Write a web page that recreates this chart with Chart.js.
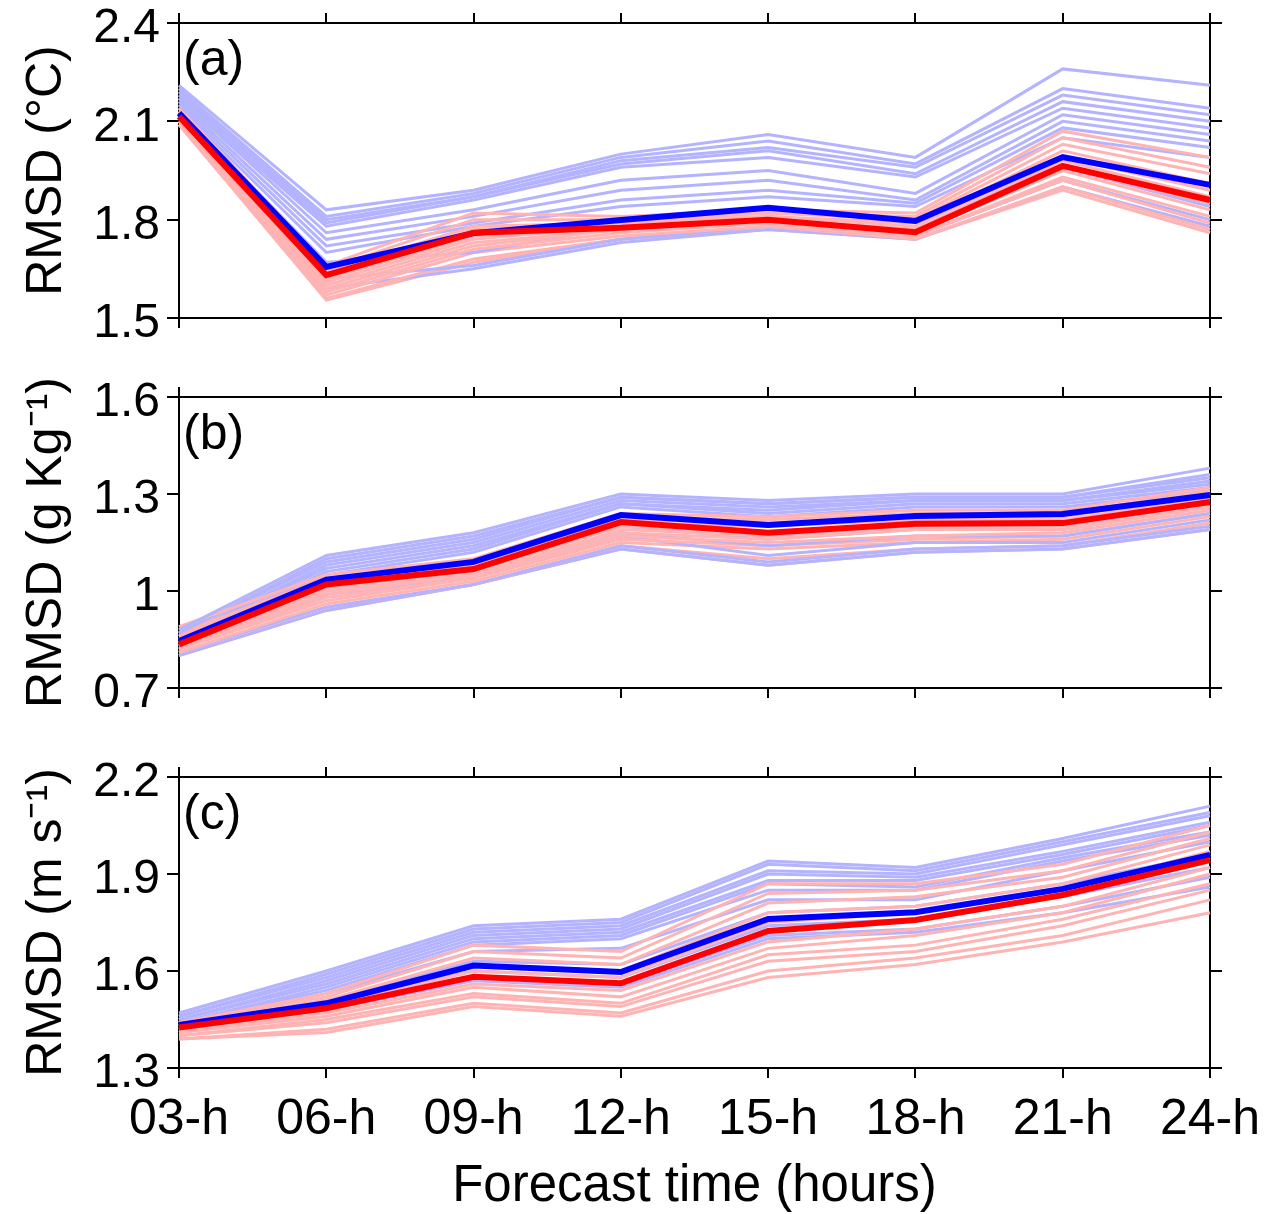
<!DOCTYPE html>
<html>
<head>
<meta charset="utf-8">
<title>RMSD vs forecast time</title>
<script src="https://cdn.jsdelivr.net/npm/chart.js@4.4.1/dist/chart.umd.min.js"></script>
<style>
  html, body { margin: 0; padding: 0; background: #fff; }
  #wrap { position: relative; width: 1274px; height: 1214px; }
  #wrap canvas { position: absolute; left: 0; }
</style>
</head>
<body>
<div id="wrap">
  <canvas id="chartA" width="1274" height="345" style="top:0"></canvas>
  <canvas id="chartB" width="1274" height="380" style="top:345px"></canvas>
  <canvas id="chartC" width="1274" height="489" style="top:725px"></canvas>
</div>
<script>
const hours = ['03-h', '06-h', '09-h', '12-h', '15-h', '18-h', '21-h', '24-h'];

// (a) temperature
const tempTicks = [1.5, 1.8, 2.1, 2.4];
const tempBlueMean = [2.125, 1.656, 1.759, 1.799, 1.836, 1.796, 1.991, 1.906];
const tempRedMean  = [2.115, 1.631, 1.760, 1.775, 1.800, 1.762, 1.964, 1.860];
const tempBlueMembers = [
  [2.21, 1.83, 1.89, 2.00, 2.06, 1.99, 2.26, 2.21],
  [2.20, 1.81, 1.88, 1.99, 2.04, 1.97, 2.20, 2.14],
  [2.19, 1.80, 1.87, 1.98, 2.02, 1.96, 2.18, 2.12],
  [2.18, 1.79, 1.87, 1.97, 2.01, 1.94, 2.16, 2.10],
  [2.17, 1.78, 1.86, 1.96, 1.99, 1.93, 2.14, 2.08],
  [2.17, 1.76, 1.83, 1.92, 1.95, 1.88, 2.12, 2.06],
  [2.16, 1.74, 1.81, 1.89, 1.92, 1.86, 2.10, 2.04],
  [2.15, 1.72, 1.79, 1.86, 1.89, 1.85, 2.08, 2.02],
  [2.14, 1.70, 1.78, 1.84, 1.87, 1.84, 2.05, 1.99],
  [2.13, 1.67, 1.70, 1.78, 1.80, 1.77, 1.96, 1.84],
  [2.12, 1.62, 1.66, 1.74, 1.78, 1.75, 1.92, 1.80],
  [2.11, 1.59, 1.65, 1.73, 1.77, 1.74, 1.90, 1.78]
];
const tempRedMembers = [
  [2.14, 1.66, 1.82, 1.81, 1.83, 1.82, 2.07, 1.99],
  [2.13, 1.65, 1.80, 1.80, 1.82, 1.81, 2.05, 1.96],
  [2.13, 1.64, 1.78, 1.79, 1.82, 1.80, 2.03, 1.94],
  [2.12, 1.63, 1.77, 1.79, 1.81, 1.79, 2.01, 1.91],
  [2.12, 1.62, 1.75, 1.78, 1.81, 1.78, 1.99, 1.89],
  [2.11, 1.61, 1.74, 1.78, 1.80, 1.77, 1.98, 1.87],
  [2.11, 1.60, 1.73, 1.77, 1.80, 1.77, 1.96, 1.85],
  [2.10, 1.59, 1.72, 1.77, 1.79, 1.76, 1.95, 1.83],
  [2.10, 1.58, 1.71, 1.76, 1.79, 1.75, 1.93, 1.81],
  [2.09, 1.57, 1.70, 1.75, 1.78, 1.75, 1.92, 1.79],
  [2.09, 1.56, 1.68, 1.74, 1.78, 1.74, 1.90, 1.77],
  [2.09, 1.555, 1.67, 1.74, 1.77, 1.74, 1.89, 1.76]
];

// (b) humidity
const humTicks = [0.7, 1.0, 1.3, 1.6];
const humBlueMean = [0.845, 1.035, 1.090, 1.235, 1.204, 1.232, 1.238, 1.297];
const humRedMean  = [0.835, 1.020, 1.068, 1.213, 1.180, 1.208, 1.210, 1.275];
const humBlueMembers = [
  [0.88, 1.11, 1.18, 1.30, 1.28, 1.30, 1.30, 1.38],
  [0.87, 1.10, 1.17, 1.29, 1.27, 1.29, 1.29, 1.36],
  [0.87, 1.09, 1.16, 1.29, 1.27, 1.29, 1.29, 1.35],
  [0.86, 1.08, 1.15, 1.28, 1.26, 1.28, 1.28, 1.34],
  [0.86, 1.07, 1.14, 1.27, 1.25, 1.28, 1.28, 1.33],
  [0.85, 1.06, 1.13, 1.27, 1.24, 1.27, 1.27, 1.32],
  [0.85, 1.05, 1.12, 1.26, 1.23, 1.26, 1.26, 1.31],
  [0.84, 1.02, 1.07, 1.20, 1.16, 1.19, 1.19, 1.26],
  [0.83, 1.00, 1.05, 1.18, 1.14, 1.17, 1.17, 1.24],
  [0.82, 0.99, 1.04, 1.17, 1.11, 1.15, 1.15, 1.22],
  [0.81, 0.95, 1.02, 1.14, 1.09, 1.13, 1.14, 1.20],
  [0.80, 0.94, 1.02, 1.13, 1.08, 1.12, 1.13, 1.19]
];
const humRedMembers = [
  [0.89, 1.05, 1.10, 1.24, 1.23, 1.25, 1.25, 1.32],
  [0.87, 1.04, 1.09, 1.23, 1.22, 1.24, 1.24, 1.31],
  [0.86, 1.03, 1.08, 1.22, 1.21, 1.23, 1.23, 1.30],
  [0.85, 1.02, 1.07, 1.21, 1.20, 1.22, 1.22, 1.29],
  [0.84, 1.01, 1.06, 1.20, 1.18, 1.21, 1.21, 1.28],
  [0.83, 1.00, 1.05, 1.19, 1.17, 1.20, 1.20, 1.27],
  [0.83, 0.99, 1.05, 1.18, 1.16, 1.19, 1.19, 1.26],
  [0.82, 0.98, 1.04, 1.17, 1.15, 1.17, 1.18, 1.25],
  [0.82, 0.97, 1.04, 1.16, 1.14, 1.16, 1.17, 1.24],
  [0.81, 0.96, 1.03, 1.15, 1.13, 1.15, 1.16, 1.23],
  [0.81, 0.95, 1.02, 1.14, 1.10, 1.13, 1.14, 1.21],
  [0.80, 0.94, 1.02, 1.13, 1.08, 1.12, 1.13, 1.19]
];

// (c) wind
const windTicks = [1.3, 1.6, 1.9, 2.2];
const windBlueMean = [1.433, 1.500, 1.617, 1.597, 1.761, 1.782, 1.854, 1.959];
const windRedMean  = [1.425, 1.485, 1.582, 1.562, 1.724, 1.758, 1.835, 1.943];
const windBlueMembers = [
  [1.47, 1.60, 1.74, 1.76, 1.94, 1.92, 2.01, 2.11],
  [1.46, 1.59, 1.73, 1.75, 1.93, 1.91, 2.00, 2.09],
  [1.46, 1.58, 1.72, 1.74, 1.91, 1.90, 1.99, 2.08],
  [1.45, 1.57, 1.71, 1.73, 1.90, 1.89, 1.97, 2.06],
  [1.45, 1.56, 1.70, 1.72, 1.88, 1.88, 1.96, 2.05],
  [1.44, 1.55, 1.69, 1.71, 1.87, 1.86, 1.95, 2.03],
  [1.44, 1.54, 1.68, 1.70, 1.85, 1.85, 1.94, 2.02],
  [1.44, 1.53, 1.66, 1.67, 1.82, 1.82, 1.91, 2.00],
  [1.43, 1.51, 1.63, 1.62, 1.78, 1.80, 1.87, 1.96],
  [1.43, 1.50, 1.60, 1.58, 1.74, 1.76, 1.83, 1.92],
  [1.42, 1.49, 1.58, 1.56, 1.71, 1.73, 1.80, 1.89],
  [1.42, 1.48, 1.57, 1.55, 1.70, 1.72, 1.78, 1.86]
];
const windRedMembers = [
  [1.44, 1.53, 1.68, 1.66, 1.87, 1.87, 1.93, 2.05],
  [1.44, 1.52, 1.66, 1.64, 1.84, 1.85, 1.91, 2.03],
  [1.43, 1.51, 1.64, 1.62, 1.81, 1.83, 1.89, 2.01],
  [1.43, 1.50, 1.62, 1.60, 1.78, 1.80, 1.87, 1.99],
  [1.42, 1.49, 1.60, 1.58, 1.75, 1.78, 1.85, 1.97],
  [1.42, 1.48, 1.58, 1.56, 1.72, 1.76, 1.83, 1.95],
  [1.41, 1.47, 1.56, 1.54, 1.69, 1.73, 1.80, 1.92],
  [1.41, 1.46, 1.55, 1.52, 1.67, 1.71, 1.78, 1.90],
  [1.40, 1.45, 1.53, 1.50, 1.65, 1.68, 1.76, 1.87],
  [1.40, 1.44, 1.52, 1.49, 1.63, 1.66, 1.74, 1.85],
  [1.39, 1.42, 1.50, 1.47, 1.60, 1.64, 1.71, 1.82],
  [1.39, 1.41, 1.49, 1.46, 1.58, 1.62, 1.69, 1.78]
];

const FONT = "'Liberation Sans', Arial, Helvetica, sans-serif";
const BLACK = '#000';
Chart.defaults.font.family = FONT;
Chart.defaults.color = BLACK;

// (a), (b), (c) written in the upper left corner of each box
const panelLabel = {
  id: 'panelLabel',
  afterDraw(chart, args, opts) {
    const { ctx, chartArea } = chart;
    ctx.save();
    ctx.font = '50px ' + FONT;
    ctx.fillStyle = BLACK;
    ctx.textBaseline = 'alphabetic';
    ctx.fillText(opts.text, chartArea.left + 4, chartArea.top + 52);
    ctx.restore();
  }
};

function buildDatasets(blueMembers, redMembers, blueMean, redMean) {
  const sets = [];
  for (let i = 0; i < Math.max(blueMembers.length, redMembers.length); i++) {
    if (blueMembers[i]) sets.push({ data: blueMembers[i], borderColor: '#b3b3ff', borderWidth: 3, order: 2 });
    if (redMembers[i]) sets.push({ data: redMembers[i], borderColor: '#ffb3b3', borderWidth: 3, order: 2 });
  }
  sets.push({ data: blueMean, borderColor: '#0000ff', borderWidth: 6, order: 1 });
  sets.push({ data: redMean, borderColor: '#ff0000', borderWidth: 6, order: 0 });
  return sets;
}

const boxGrid = { display: true, drawOnChartArea: false, drawTicks: true, tickLength: 12, color: BLACK, lineWidth: 2 };
const boxBorder = { display: true, color: BLACK, width: 2 };
const fmt = v => String(Number(v.toFixed(1)));

function renderPanel(id, cfg) {
  const setTicks = s => { s.ticks = cfg.ticks.map(v => ({ value: v })); };
  new Chart(document.getElementById(id), {
    type: 'line',
    data: { labels: hours, datasets: buildDatasets(cfg.blueMembers, cfg.redMembers, cfg.blueMean, cfg.redMean) },
    plugins: [panelLabel],
    options: {
      responsive: false,
      animation: false,
      layout: { padding: 0 },
      elements: { point: { radius: 0 }, line: { tension: 0, borderCapStyle: 'butt' } },
      plugins: { legend: { display: false }, tooltip: { enabled: false }, panelLabel: { text: cfg.label } },
      scales: {
        x: {
          type: 'category', position: 'bottom', offset: false,
          grid: Object.assign({}, boxGrid, { tickLength: 10 }), border: boxBorder,
          ticks: { display: cfg.showX, font: { size: 50 }, color: BLACK, padding: 12, maxRotation: 0, autoSkip: false },
          title: { display: cfg.showX, text: 'Forecast time (hours)', font: { size: 51, lineHeight: 1 }, color: BLACK, padding: { top: 0, bottom: 2 } },
          afterFit: s => { s.height = cfg.bottomH; s.paddingLeft = 0; s.paddingRight = 0; }
        },
        xTop: {
          type: 'category', axis: 'x', position: 'top', offset: false,
          grid: Object.assign({}, boxGrid, { tickLength: 10 }), border: boxBorder,
          ticks: { display: false },
          afterFit: s => { s.height = cfg.topH; s.paddingLeft = 0; s.paddingRight = 0; }
        },
        y: {
          type: 'linear', position: 'left', min: cfg.ticks[0], max: cfg.ticks[cfg.ticks.length - 1],
          grid: boxGrid, border: boxBorder,
          afterBuildTicks: setTicks,
          ticks: { font: { size: 48 }, color: BLACK, padding: 7, labelOffset: 6, callback: fmt },
          title: { display: true, text: cfg.yTitle, font: { size: 50, lineHeight: 1 }, color: BLACK, padding: { top: 22, bottom: 0 } },
          afterFit: s => { s.width = 179; s.paddingTop = 0; s.paddingBottom = 0; }
        },
        yRight: {
          type: 'linear', axis: 'y', position: 'right', min: cfg.ticks[0], max: cfg.ticks[cfg.ticks.length - 1],
          grid: boxGrid, border: boxBorder,
          afterBuildTicks: setTicks,
          ticks: { display: false },
          afterFit: s => { s.width = 64; s.paddingTop = 0; s.paddingBottom = 0; }
        }
      }
    }
  });
}

renderPanel('chartA', {
  label: '(a)', yTitle: 'RMSD (°C)', ticks: tempTicks, topH: 23, bottomH: 27, showX: false,
  blueMembers: tempBlueMembers, redMembers: tempRedMembers, blueMean: tempBlueMean, redMean: tempRedMean
});
renderPanel('chartB', {
  label: '(b)', yTitle: 'RMSD (g Kg\u207B\u00B9)', ticks: humTicks, topH: 52, bottomH: 37, showX: false,
  blueMembers: humBlueMembers, redMembers: humRedMembers, blueMean: humBlueMean, redMean: humRedMean
});
renderPanel('chartC', {
  label: '(c)', yTitle: 'RMSD (m s\u207B\u00B9)', ticks: windTicks, topH: 52, bottomH: 146, showX: true,
  blueMembers: windBlueMembers, redMembers: windRedMembers, blueMean: windBlueMean, redMean: windRedMean
});
</script>
</body>
</html>
